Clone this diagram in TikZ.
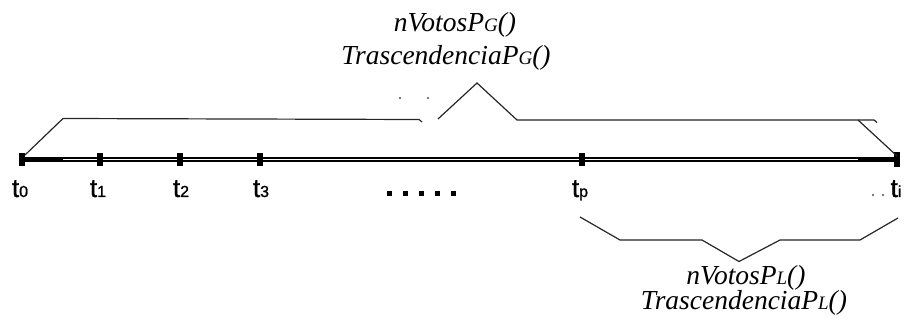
\documentclass[tikz,border=0pt]{standalone}
\usepackage{fontspec}
\setmainfont{Liberation Serif}
\newfontfamily\tickfont[FakeBold=1.2]{Liberation Sans}
\newcommand\tsb[1]{{\fontsize{16}{16}\selectfont #1}}
\newcommand\fsb[1]{{\fontsize{19}{19}\selectfont #1}}
\begin{document}
\begin{tikzpicture}[x=1pt,y=-1pt,
  brace/.style={line width=1.2pt, black!85, line join=miter},
  tickmark/.style={fill=black, draw=none, inner sep=0pt, minimum width=5.5pt, minimum height=13pt},
  tlabel/.style={font=\tickfont\fontsize{26}{26}\selectfont, inner sep=0pt, anchor=base},
  fn/.style={font=\itshape\fontsize{27.5}{27.5}\selectfont, inner sep=0pt, anchor=base},
  dotsq/.style={fill=black, draw=none, inner sep=0pt, minimum size=5pt},
  speck/.style={fill=black!70, draw=none, circle, inner sep=0pt, minimum size=2.2pt}]
\useasboundingbox (0,0) rectangle (904,320);
% timeline points
\coordinate (c0) at (22,159.5);
\coordinate (c1) at (100,159.5);
\coordinate (c2) at (180,159.5);
\coordinate (c3) at (260,159.5);
\coordinate (cp) at (582,159.5);
\coordinate (ci) at (897,159.5);
\coordinate (d1) at (63,159.5);
\coordinate (d2) at (858,159.5);
% timeline
\draw[line width=5.5pt] (c0) -- (d1);
\draw[line width=5.5pt] (d2) -- (ci);
\draw[line width=2pt, double=white, double distance=1.3pt] (d1) -- (d2);
% tick marks
\node[tickmark] (t0) at (c0) {};
\node[tickmark] (t1) at (c1) {};
\node[tickmark] (t2) at (c2) {};
\node[tickmark] (t3) at (c3) {};
\node[tickmark] (tp) at (cp) {};
\node[tickmark, minimum height=15pt] (ti) at (ci) {};
% tick labels
\node[tlabel] (l0) at (20,197) {t\tsb{0}};
\node[tlabel] (l1) at (98,197) {t\tsb{1}};
\node[tlabel] (l2) at (181,197) {t\tsb{2}};
\node[tlabel] (l3) at (261,197) {t\tsb{3}};
\node[tlabel] (lp) at (580,197) {t\tsb{p}};
\node[tlabel] (li) at (896,197) {t\tsb{i}};
% dots
\node[dotsq] (e1) at (389,194) {};
\node[dotsq] (e2) at (405,194) {};
\node[dotsq] (e3) at (421,194) {};
\node[dotsq] (e4) at (437,194) {};
\node[dotsq] (e5) at (453,194) {};
% upper brace
\coordinate (ua) at (25,155);
\coordinate (ub) at (63,118.5);
\coordinate (uc) at (419,119.5);
\coordinate (ud) at (422,122);
\coordinate (ue) at (438,119);
\coordinate (uf) at (477,83);
\coordinate (ug) at (517,120);
\coordinate (uh) at (874,120);
\coordinate (uk) at (877,122.5);
\coordinate (um) at (858,120);
\coordinate (un) at (897,156);
\draw[brace] (ua) -- (ub) -- (uc) -- (ud);
\draw[brace] (ue) -- (uf) -- (ug) -- (uh) -- (uk);
\draw[brace] (um) -- (un);
\node[speck] (s1) at (400,98) {};
\node[speck] (s2) at (428,98) {};
\node[speck] (s3) at (873,195) {};
\node[speck] (s4) at (883,195) {};
% lower brace
\coordinate (la) at (580,217);
\coordinate (lb) at (620,240);
\coordinate (lc) at (702,240);
\coordinate (ld) at (739,261.5);
\coordinate (le) at (780,240);
\coordinate (lf) at (860,240);
\coordinate (lg) at (898,218);
\draw[brace] (la) -- (lb) -- (lc) -- (ld) -- (le) -- (lf) -- (lg);
% function labels
\node[fn] (g1) at (455,32) {nVotosP\fsb{G}()};
\node[fn] (g2) at (446,65) {TrascendenciaP\fsb{G}()};
\node[fn] (p1) at (746,284) {nVotosP\fsb{L}()};
\node[fn] (p2) at (744,309) {TrascendenciaP\fsb{L}()};
\end{tikzpicture}
\end{document}
